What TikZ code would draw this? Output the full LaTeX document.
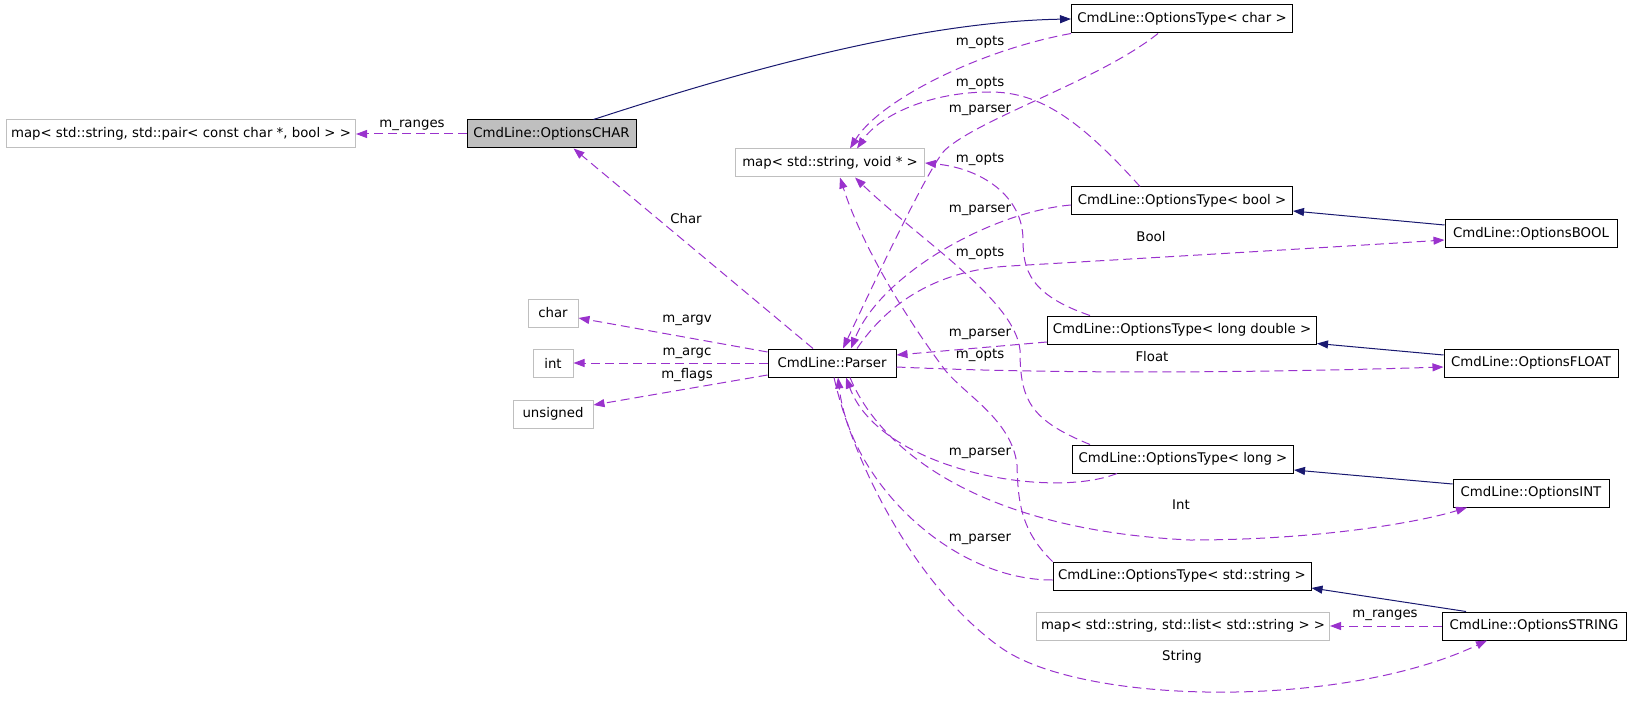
\documentclass[tikz,border=0pt]{standalone}
\usepackage{fontspec}
\setmainfont{DejaVu Sans}
\usepackage{tikz}
\usetikzlibrary{arrows.meta}
\definecolor{DoxNavy}{HTML}{191970}
\definecolor{DoxPurple}{HTML}{9A32CD}
\definecolor{DoxGray}{HTML}{BFBFBF}
\begin{document}
\begin{tikzpicture}[x=1pt,y=-1pt,font=\fontsize{13.3}{16}\selectfont,
  cls/.style={draw=black,line width=1pt,inner sep=0pt,minimum height=28pt},
  ext/.style={cls,draw=DoxGray},
  inh/.style={DoxNavy,line width=1pt,-{Triangle[length=11pt,width=8pt]}},
  use/.style={DoxPurple,line width=1pt,dash pattern=on 9pt off 5pt,-{Triangle[length=11pt,width=8pt]}},
  lbl/.style={inner sep=0pt}]
\useasboundingbox (0,0) rectangle (1627,711);
% classes
\node[ext,minimum width=349pt] (pair) at (181,134) {map< std::string, std::pair< const char *, bool > >};
\node[cls,fill=DoxGray,minimum width=169pt] (ochar) at (551.5,134) {CmdLine::OptionsCHAR};
\node[cls,minimum width=221pt] (tchar) at (1182,19) {CmdLine::OptionsType< char >};
\node[ext,minimum width=189pt] (mapvoid) at (830,163) {map< std::string, void * >};
\node[cls,minimum width=221pt] (tbool) at (1182,201) {CmdLine::OptionsType< bool >};
\node[cls,minimum width=172pt] (obool) at (1531,234) {CmdLine::OptionsBOOL};
\node[cls,minimum width=269pt] (tld) at (1182,330) {CmdLine::OptionsType< long double >};
\node[cls,minimum width=174pt] (ofloat) at (1531,363) {CmdLine::OptionsFLOAT};
\node[ext,minimum width=50pt] (cchar) at (553,313) {char};
\node[ext,minimum width=40pt] (cint) at (553,363) {int};
\node[ext,minimum width=80pt] (cuns) at (553,414) {unsigned};
\node[cls,minimum width=128pt] (parser) at (832,363) {CmdLine::Parser};
\node[cls,minimum width=221pt] (tlong) at (1183,459) {CmdLine::OptionsType< long >};
\node[cls,minimum width=156pt] (oint) at (1531,493) {CmdLine::OptionsINT};
\node[cls,minimum width=258pt] (tstr) at (1182,576) {CmdLine::OptionsType< std::string >};
\node[ext,minimum width=293pt] (maplist) at (1183,626) {map< std::string, std::list< std::string > >};
\node[cls,minimum width=184pt] (ostr) at (1534,626) {CmdLine::OptionsSTRING};
% inheritance
\draw[inh] ([xshift=42pt]ochar.north) .. controls (700,85) and (900,22) .. (tchar.west);
\draw[inh] ([yshift=9pt]obool.west) -- ([yshift=-10pt]tbool.east);
\draw[inh] ([yshift=8pt]ofloat.west) -- ([yshift=1pt]tld.south east);
\draw[inh] ([yshift=9pt]oint.west) -- ([yshift=-11pt]tlong.east);
\draw[inh] ([xshift=-68pt]ostr.north) -- ([yshift=-12pt]tstr.east);
% members
\draw[use] (ochar.west) -- (pair.east);
\draw[use] (ostr.west) -- (maplist.east);
\draw[use] ([xshift=-19pt]parser.north) -- ([xshift=22pt]ochar.south);
\draw[use] ([yshift=11pt]parser.west) -- ([yshift=-5pt]cchar.east);
\draw[use] (parser.west) -- (cint.east);
\draw[use] ([yshift=-12pt]parser.west) -- ([yshift=9pt]cuns.east);
\draw[use] ([xshift=25pt]parser.north) .. controls (890,300) and (940,270) .. (1010,266) .. controls (1200,255) and (1350,246) .. ([yshift=-6pt]obool.west);
\draw[use] ([yshift=-4pt]parser.east) .. controls (1050,374) and (1250,373) .. ([yshift=-4pt]ofloat.west);
\draw[use] ([xshift=18pt]parser.south) .. controls (880,450) and (980,530) .. (1190,540) .. controls (1320,540) and (1420,522) .. ([xshift=-64pt]oint.south);
\draw[use] ([xshift=2pt]parser.south) .. controls (855,470) and (920,590) .. (1000,647) .. controls (1080,705) and (1340,710) .. ([xshift=-47pt]ostr.south);
% m_parser
\draw[use] ([xshift=-24pt]tchar.south) .. controls (1100,80) and (980,118) .. (945,150) .. controls (930,165) and (880,270) .. ([xshift=11pt]parser.north);
\draw[use] ([yshift=-4pt]tbool.west) .. controls (990,212) and (880,275) .. ([xshift=19pt]parser.north);
\draw[use] ([yshift=-12pt]tld.west) -- ([yshift=8pt]parser.east);
\draw[use] ([xshift=-66pt]tlong.south) .. controls (1050,500) and (880,470) .. ([xshift=14pt]parser.south);
\draw[use] ([yshift=-4pt]tstr.west) .. controls (950,580) and (850,480) .. ([xshift=6pt]parser.south);
% m_opts
\draw[use] (tchar.south west) .. controls (980,50) and (880,100) .. ([xshift=20pt]mapvoid.north);
\draw[use] ([xshift=-42pt]tbool.north) .. controls (1080,120) and (1040,92) .. (990,92) .. controls (930,92) and (880,115) .. ([xshift=27pt]mapvoid.north);
\draw[use] ([xshift=-92pt]tld.north) .. controls (1030,295) and (1023,270) .. (1023,240) .. controls (1023,195) and (980,168) .. (mapvoid.east);
\draw[use] ([xshift=-93pt]tlong.north) .. controls (1030,420) and (1020,400) .. (1020,350) .. controls (1015,300) and (920,240) .. ([xshift=25pt]mapvoid.south);
\draw[use] (tstr.north west) .. controls (1020,530) and (1018,500) .. (1017,465) .. controls (1012,420) and (965,395) .. (945,370) .. controls (900,310) and (860,240) .. ([xshift=10pt]mapvoid.south);
% labels
\foreach \nm/\x/\y/\t in {lrng1/412/125/m\_ranges,lrng2/1385/615/m\_ranges,lchar/686/219/Char,largv/687/320/m\_argv,largc/687/353/m\_argc,lflags/687/375/m\_flags,
  lbool/1151/237/Bool,lfloat/1152/357/Float,lint/1181/505/Int,lstr/1182/657/String,
  lpar1/980/110/m\_parser,lpar2/980/210/m\_parser,lpar3/980/334/m\_parser,lpar4/980/453/m\_parser,lpar5/980/539/m\_parser,
  lopt1/980/42/m\_opts,lopt2/980/83/m\_opts,lopt3/980/159/m\_opts,lopt4/980/253/m\_opts,lopt5/980/355/m\_opts}
  \node[lbl] (\nm) at (\x,\y) {\t};
\end{tikzpicture}
\end{document}
